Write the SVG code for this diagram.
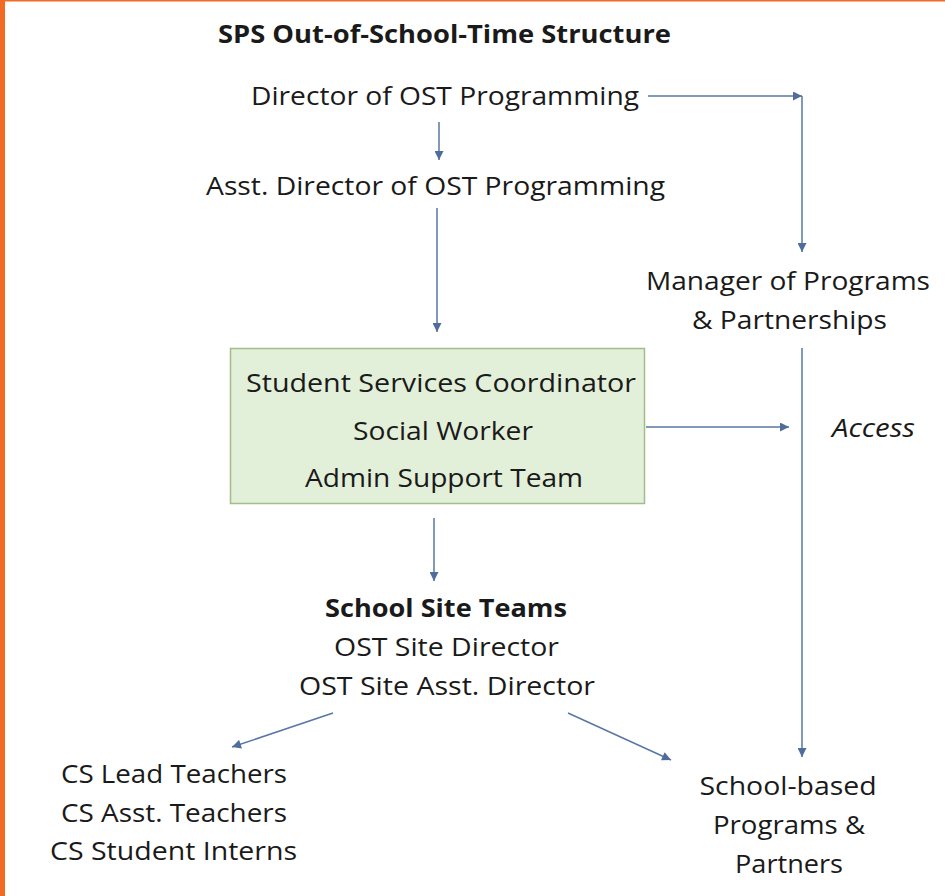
<svg xmlns="http://www.w3.org/2000/svg" width="945" height="896" viewBox="0 0 945 896">
<defs>
<style>
.t{font-family:"Open Sans","Liberation Sans",sans-serif;font-size:25px;fill:#1a1a1a;text-anchor:middle}
.b{font-weight:bold}
.i{font-style:italic}
.c{fill:none;stroke:#5877a6;stroke-width:1.5}
</style>
<marker id="ah" viewBox="0 0 10 10" refX="10" refY="5" markerWidth="10" markerHeight="9" markerUnits="userSpaceOnUse" orient="auto">
<path d="M0,0 L10,5 L0,10 z" fill="#4f6d9c"/>
</marker>
</defs>
<rect x="0" y="0" width="945" height="896" fill="#ffffff"/>
<rect x="0" y="0" width="5" height="896" fill="#f26a24"/>
<rect x="0" y="0" width="945" height="1.5" fill="#f26a24"/>

<g id="title"><text class="t b" x="444.5" y="43" textLength="453" lengthAdjust="spacingAndGlyphs">SPS Out-of-School-Time Structure</text></g>
<g id="director"><text class="t" x="445" y="105" textLength="388" lengthAdjust="spacingAndGlyphs">Director of OST Programming</text></g>
<g id="asst-director"><text class="t" x="435.5" y="195" textLength="459" lengthAdjust="spacingAndGlyphs">Asst. Director of OST Programming</text></g>
<g id="manager">
<text class="t" x="788" y="290" textLength="284" lengthAdjust="spacingAndGlyphs">Manager of Programs</text>
<text class="t" x="789.5" y="329" textLength="195" lengthAdjust="spacingAndGlyphs">&amp; Partnerships</text>
</g>
<g id="support-box">
<rect x="230.5" y="348.5" width="414" height="155" fill="#e2efd9" stroke="#a2bd8c" stroke-width="1.5"/>
<text class="t" x="441" y="392" textLength="390" lengthAdjust="spacingAndGlyphs">Student Services Coordinator</text>
<text class="t" x="443" y="440" textLength="180" lengthAdjust="spacingAndGlyphs">Social Worker</text>
<text class="t" x="444" y="487" textLength="278" lengthAdjust="spacingAndGlyphs">Admin Support Team</text>
</g>
<g id="access"><text class="t i" x="873.5" y="437" textLength="83" lengthAdjust="spacingAndGlyphs">Access</text></g>
<g id="site-teams">
<text class="t b" x="446" y="617" textLength="242" lengthAdjust="spacingAndGlyphs">School Site Teams</text>
<text class="t" x="446.5" y="656" textLength="225" lengthAdjust="spacingAndGlyphs">OST Site Director</text>
<text class="t" x="447" y="695" textLength="296" lengthAdjust="spacingAndGlyphs">OST Site Asst. Director</text>
</g>
<g id="cs-staff">
<text class="t" x="174" y="783" textLength="226" lengthAdjust="spacingAndGlyphs">CS Lead Teachers</text>
<text class="t" x="174" y="822" textLength="226" lengthAdjust="spacingAndGlyphs">CS Asst. Teachers</text>
<text class="t" x="173.5" y="860" textLength="247" lengthAdjust="spacingAndGlyphs">CS Student Interns</text>
</g>
<g id="school-based">
<text class="t" x="788" y="795" textLength="177" lengthAdjust="spacingAndGlyphs">School-based</text>
<text class="t" x="789" y="834" textLength="152" lengthAdjust="spacingAndGlyphs">Programs &amp;</text>
<text class="t" x="789" y="873" textLength="108" lengthAdjust="spacingAndGlyphs">Partners</text>
</g>

<g id="connectors">
<path class="c" d="M648,96 H802" marker-end="url(#ah)"/>
<path class="c" d="M802,96 V252" marker-end="url(#ah)"/>
<path class="c" d="M439,122 V160" marker-end="url(#ah)"/>
<path class="c" d="M437,208 V332" marker-end="url(#ah)"/>
<path class="c" d="M646,427 H789" marker-end="url(#ah)"/>
<path class="c" d="M802,348 V757" marker-end="url(#ah)"/>
<path class="c" d="M434,518 V581" marker-end="url(#ah)"/>
<path class="c" d="M333,713 L232,747" marker-end="url(#ah)"/>
<path class="c" d="M568,713 L671,760" marker-end="url(#ah)"/>
</g>
</svg>
